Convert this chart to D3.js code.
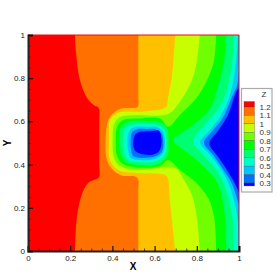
<!DOCTYPE html>
<html>
<head>
<meta charset="utf-8">
<script src="https://cdn.jsdelivr.net/npm/d3@7"></script>
<style>
    html, body { margin: 0; padding: 0; background: #fff; }
    svg { display: block; }
    text { font-family: "Liberation Sans", Arial, sans-serif; }
</style>
</head>
<body>
<div id="chart"></div>
<script>
// contour bands, from the outside of the plot inwards
var levels = [1.2, 1.1, 1, 0.9, 0.8, 0.7, 0.6, 0.5, 0.4, 0.3];
var legendEdges = [1.265, 1.2, 1.1, 1, 0.9, 0.8, 0.7, 0.6, 0.5, 0.4, 0.3, 0.265];
var bandColors = ["#ff0000", "#ff7000", "#ffc000", "#c8ff00", "#70ff00", "#00ff00",
    "#00ff70", "#00ffc8", "#00c8ff", "#0070ff", "#0000ff"];

var xTicks = [0, 0.2, 0.4, 0.6, 0.8, 1];
var yTicks = [0, 0.2, 0.4, 0.6, 0.8, 1];
var minorTicks = [0.05, 0.1, 0.15, 0.25, 0.3, 0.35, 0.45, 0.5, 0.55, 0.65, 0.7, 0.75, 0.85, 0.9, 0.95];

// iso lines, [x, y]; each runs top to bottom and closes along x = 1
var line12 = [[.223, 1], [.2275, .917], [.246, .792], [.281, .707], [.318, .671], [.33, .667], [.338, .655], [.338, .6],
    [.338, .4], [.338, .345], [.33, .336], [.286, .316], [.254, .258], [.231, .15], [.223, 0]];
var line11 = [[.523, 1], [.523, .9], [.523, .72], [.523, .675], [.515, .664], [.45, .661], [.412, .645], [.381, .606],
    [.368, .523], [.373, .427], [.397, .381], [.444, .35], [.51, .344], [.523, .33], [.523, .28], [.523, .1], [.523, 0]];
var line10 = [[.698, 1], [.682, .807], [.662, .699], [.659, .672], [.645, .66], [.531, .645], [.427, .639], [.389, .606],
    [.385, .523], [.389, .421], [.427, .375], [.531, .36], [.645, .354], [.661, .342], [.673, .227], [.698, 0]];
var line09 = [[.814, 1], [.801, .884], [.777, .792], [.72, .691], [.673, .639], [.626, .627], [.531, .63],
    [.436, .62], [.408, .588], [.401, .523], [.408, .431], [.436, .394], [.531, .375], [.649, .389],
    [.705, .38], [.739, .329], [.777, .259], [.801, .148], [.814, 0]];
var line08 = [[.892, 1], [.882, .884], [.856, .807], [.809, .722], [.783, .691], [.72, .63], [.664, .575],
    [.626, .613], [.531, .614], [.45, .606], [.422, .574], [.416, .523], [.422, .44], [.45, .403], [.531, .387],
    [.626, .394], [.664, .421], [.72, .375], [.783, .329], [.807, .306], [.856, .242], [.883, .15], [.892, 0]];
var line07 = [[.938, 1], [.93, .884], [.904, .778], [.863, .662], [.782, .583], [.72, .542], [.687, .514],
    [.72, .481], [.782, .435], [.863, .361], [.896, .319], [.929, .194], [.94, 0]];
var line06 = [[.975, 1], [.967, .87], [.934, .722], [.886, .639], [.823, .569], [.783, .506], [.823, .454],
    [.886, .384], [.926, .315], [.967, .167], [.975, 0]];
var line05 = [[.995, 1], [.987, .884], [.957, .722], [.91, .622], [.855, .552], [.815, .503], [.855, .454],
    [.91, .384], [.949, .315], [.991, .167], [.995, 0]];
var line04 = [[1, .829], [.992, .769], [.97, .722], [.926, .622], [.878, .56], [.834, .501], [.878, .444],
    [.926, .375], [.965, .315], [1, .213]];
var line03 = [[1, .755], [.986, .736], [.948, .63], [.9, .556], [.859, .499], [.9, .437], [.949, .366],
    [.986, .301], [1, .269]];

// closed loops round the low in the middle
var loop07 = [[.431, .523], [.441, .574], [.474, .597], [.564, .602], [.626, .597], [.659, .569], [.666, .505],
    [.659, .44], [.616, .403], [.531, .398], [.464, .412], [.436, .458]];
var loop06 = [[.449, .523], [.457, .565], [.488, .585], [.564, .588], [.616, .583], [.647, .56], [.656, .505],
    [.647, .444], [.607, .414], [.531, .411], [.474, .421], [.453, .463]];
var loop05 = [[.471, .523], [.479, .556], [.502, .573], [.564, .575], [.611, .574], [.64, .551], [.649, .505],
    [.64, .454], [.602, .426], [.531, .421], [.488, .431], [.474, .468]];
var loop04 = [[.487, .523], [.493, .549], [.512, .563], [.564, .565], [.607, .563], [.633, .544], [.641, .505],
    [.633, .458], [.597, .436], [.531, .432], [.498, .44], [.488, .472]];
var loop03 = [[.499, .508], [.506, .536], [.526, .55], [.582, .554], [.621, .557], [.632, .523], [.632, .492],
    [.621, .462], [.589, .446], [.534, .45], [.51, .462], [.499, .485]];

var openLines = [line12, line11, line10, line09, line08, line07, line06, line05, line04, line03];
var loops = [null, null, null, null, null, loop07, loop06, loop05, loop04, loop03];

function init() {
    var w = 277;
    var h = 272;

    var xScale = d3.scaleLinear().domain([0, 1]).range([28, 239]);
    var yScale = d3.scaleLinear().domain([0, 1]).range([251, 35]);
    var legendScale = d3.scaleLinear().domain([1.2, 0.3]).range([107, 183]);

    var svg = d3.select("#chart").append("svg")
        .attr("width", w)
        .attr("height", h);

    var curve = d3.line()
        .x(function (d) { return xScale(d[0]); })
        .y(function (d) { return yScale(d[1]); })
        .curve(d3.curveCatmullRom.alpha(0.5));

    var loopCurve = d3.line()
        .x(function (d) { return xScale(d[0]); })
        .y(function (d) { return yScale(d[1]); })
        .curve(d3.curveCatmullRomClosed.alpha(0.5));

    svg.append("clipPath").attr("id", "plotClip")
        .append("rect")
        .attr("x", xScale(0))
        .attr("y", yScale(1))
        .attr("width", xScale(1) - xScale(0))
        .attr("height", yScale(0) - yScale(1));

    var plot = svg.append("g").attr("clip-path", "url(#plotClip)");

    plot.append("rect")
        .attr("x", xScale(0))
        .attr("y", yScale(1))
        .attr("width", xScale(1) - xScale(0))
        .attr("height", yScale(0) - yScale(1))
        .attr("fill", bandColors[0]);

    openLines.forEach(function (pts, i) {
        var first = pts[0];
        var last = pts[pts.length - 1];
        // close along the right hand side of the plot
        var d = curve(pts) + "L" + xScale(1) + "," + yScale(last[1]) + "L" + xScale(1) + "," + yScale(first[1]) + "Z";
        plot.append("path").attr("d", d).attr("fill", bandColors[i + 1]);
        if (loops[i]) {
            plot.append("path").attr("d", loopCurve(loops[i])).attr("fill", bandColors[i + 1]);
        }
    });

    // red frame on the open sides
    svg.append("path")
        .attr("d", "M" + xScale(0) + "," + yScale(1) + "H" + xScale(1) + "V" + yScale(0))
        .attr("fill", "none")
        .attr("stroke", "#e01010")
        .attr("stroke-width", 1);

    // axes
    var tickFormat = function (d) { return d3.format("~g")(d); };

    var xAxis = d3.axisBottom(xScale).tickValues(xTicks).tickSize(-5).tickPadding(4).tickFormat(tickFormat);
    var yAxis = d3.axisLeft(yScale).tickValues(yTicks).tickSize(-5).tickPadding(3).tickFormat(tickFormat);

    var xGroup = svg.append("g").attr("transform", "translate(0," + yScale(0) + ")").call(xAxis);
    var yGroup = svg.append("g").attr("transform", "translate(" + xScale(0) + ",0)").call(yAxis);

    var xMinor = svg.append("g").attr("transform", "translate(0," + yScale(0) + ")")
        .call(d3.axisBottom(xScale).tickValues(minorTicks).tickSize(-2.5).tickFormat(""));
    var yMinor = svg.append("g").attr("transform", "translate(" + xScale(0) + ",0)")
        .call(d3.axisLeft(yScale).tickValues(minorTicks).tickSize(-2.5).tickFormat(""));

    [xMinor, yMinor].forEach(function (g) {
        g.select(".domain").remove();
        g.selectAll("line").attr("stroke", "#222").attr("stroke-width", 0.8);
    });
    [xGroup, yGroup].forEach(function (g) {
        g.select(".domain").attr("stroke", "#222").attr("stroke-width", 2);
        g.selectAll(".tick line").attr("stroke", "#111").attr("stroke-width", 1.2);
        g.selectAll("text")
            .style("font-family", '"Liberation Sans", Arial, sans-serif')
            .style("font-size", "8px")
            .attr("fill", "#222");
    });

    // axis names
    svg.append("text")
        .attr("x", 133)
        .attr("y", 270)
        .attr("text-anchor", "middle")
        .style("font-size", "10px")
        .style("font-weight", "bold")
        .text("X");

    svg.append("text")
        .attr("transform", "translate(11,143) rotate(-90)")
        .attr("text-anchor", "middle")
        .style("font-size", "10px")
        .style("font-weight", "bold")
        .text("Y");

    // legend
    var legend = svg.append("g");

    legend.append("rect")
        .attr("x", 241.5)
        .attr("y", 88.5)
        .attr("width", 30.5)
        .attr("height", 103.5)
        .attr("fill", "#fff")
        .attr("stroke", "#aaa")
        .attr("stroke-width", 1.2);

    legend.append("text")
        .attr("x", 264)
        .attr("y", 97)
        .attr("text-anchor", "middle")
        .attr("fill", "#333")
        .style("font-size", "8px")
        .text("Z");

    legend.selectAll(".swatch")
        .data(bandColors)
        .enter()
        .append("rect")
        .attr("class", "swatch")
        .attr("x", 244)
        .attr("y", function (d, i) { return legendScale(legendEdges[i]); })
        .attr("width", 10.5)
        .attr("height", function (d, i) { return legendScale(legendEdges[i + 1]) - legendScale(legendEdges[i]); })
        .attr("fill", function (d) { return d; })
        .attr("stroke", "#444")
        .attr("stroke-width", 0.3);

    legend.selectAll(".level")
        .data(levels)
        .enter()
        .append("text")
        .attr("class", "level")
        .attr("x", 259.5)
        .attr("y", function (d) { return legendScale(d) + 3; })
        .attr("fill", "#333")
        .style("font-size", "8px")
        .text(function (d) { return d3.format("~g")(d); });
}
window.onload = init;
</script>
</body>
</html>
